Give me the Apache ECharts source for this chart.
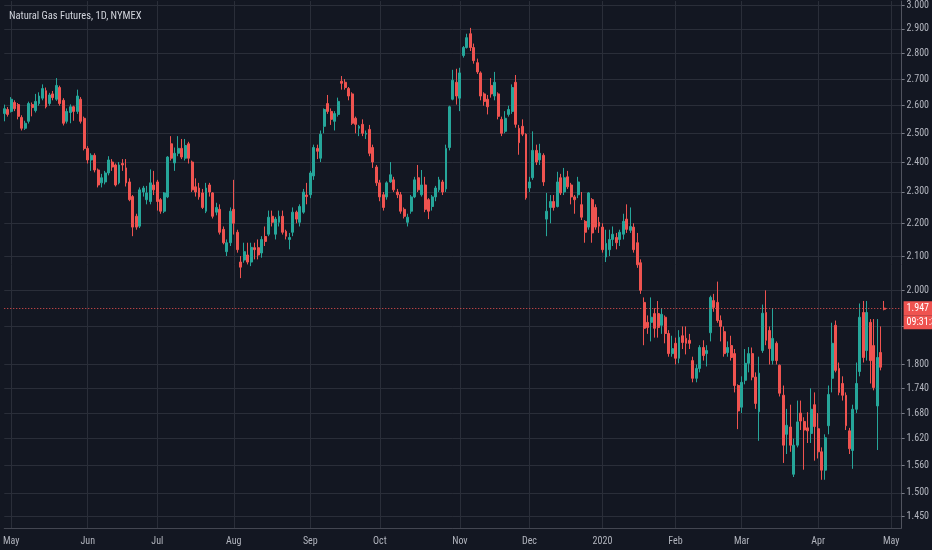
<!DOCTYPE html>
<html>
<head>
<meta charset="utf-8">
<title>Natural Gas Futures, 1D, NYMEX</title>
<script src="https://cdn.jsdelivr.net/npm/echarts@6/dist/echarts.min.js"></script>
<style>
html, body { margin: 0; padding: 0; background: #131722; }
#chart { width: 932px; height: 550px; }
</style>
</head>
<body>
<div id="chart"></div>
<script type="text/javascript">

// trading calendar (NYMEX, daily bars)
var firstDay = '2019-04-29';
var lastDay = '2020-05-06';
var holidays = ['2019-05-27', '2019-07-04', '2019-09-02', '2019-11-28', '2019-12-25',
                '2020-01-01', '2020-01-20', '2020-02-17', '2020-04-10'];
var monthNames = ['Jan', 'Feb', 'Mar', 'Apr', 'May', 'Jun', 'Jul', 'Aug', 'Sep', 'Oct', 'Nov', 'Dec'];

// [open, close, low, high]
var ohlc = [
    // late Apr / May 2019
    [2.571, 2.589, 2.543, 2.604], [2.586, 2.568, 2.560, 2.595], [2.579, 2.624, 2.575, 2.632],
    [2.612, 2.589, 2.580, 2.620], [2.604, 2.561, 2.550, 2.610], [2.557, 2.518, 2.510, 2.565],
    [2.518, 2.536, 2.512, 2.545], [2.543, 2.608, 2.535, 2.615], [2.604, 2.593, 2.561, 2.612],
    [2.582, 2.616, 2.575, 2.644], [2.608, 2.636, 2.600, 2.650], [2.628, 2.664, 2.620, 2.680],
    [2.656, 2.596, 2.590, 2.668], [2.608, 2.640, 2.600, 2.648], [2.644, 2.630, 2.620, 2.655],
    [2.624, 2.676, 2.618, 2.704], [2.668, 2.608, 2.600, 2.675], [2.620, 2.536, 2.528, 2.628],
    [2.543, 2.579, 2.535, 2.590], [2.575, 2.596, 2.536, 2.605], [2.596, 2.579, 2.545, 2.600],
    [2.579, 2.636, 2.570, 2.660], [2.624, 2.543, 2.535, 2.632], [2.554, 2.447, 2.440, 2.560],
    // Jun
    [2.447, 2.407, 2.395, 2.455], [2.407, 2.423, 2.370, 2.430], [2.423, 2.373, 2.365, 2.430],
    [2.373, 2.323, 2.315, 2.378], [2.330, 2.347, 2.315, 2.360], [2.333, 2.363, 2.325, 2.370],
    [2.363, 2.407, 2.355, 2.420], [2.400, 2.383, 2.370, 2.410], [2.390, 2.323, 2.318, 2.395],
    [2.330, 2.390, 2.325, 2.400], [2.395, 2.390, 2.370, 2.410], [2.380, 2.330, 2.318, 2.410],
    [2.333, 2.275, 2.270, 2.345], [2.285, 2.188, 2.160, 2.290], [2.222, 2.188, 2.180, 2.230],
    [2.191, 2.307, 2.185, 2.315], [2.300, 2.313, 2.285, 2.320], [2.275, 2.297, 2.260, 2.320],
    [2.269, 2.330, 2.260, 2.375], [2.323, 2.307, 2.290, 2.370],
    // Jul
    [2.333, 2.269, 2.240, 2.340], [2.275, 2.238, 2.230, 2.280], [2.238, 2.297, 2.232, 2.300],
    [2.284, 2.417, 2.280, 2.420], [2.463, 2.413, 2.405, 2.490], [2.397, 2.430, 2.370, 2.450],
    [2.430, 2.447, 2.420, 2.490], [2.447, 2.417, 2.410, 2.480], [2.413, 2.457, 2.405, 2.480],
    [2.463, 2.413, 2.395, 2.470], [2.400, 2.307, 2.300, 2.405], [2.317, 2.300, 2.285, 2.345],
    [2.313, 2.284, 2.275, 2.330], [2.297, 2.250, 2.245, 2.310], [2.238, 2.313, 2.232, 2.330],
    [2.323, 2.300, 2.285, 2.330], [2.297, 2.222, 2.215, 2.300], [2.235, 2.250, 2.225, 2.265],
    [2.244, 2.172, 2.165, 2.260], [2.181, 2.140, 2.135, 2.190], [2.113, 2.140, 2.100, 2.150],
    [2.140, 2.238, 2.130, 2.250],
    // Aug
    [2.244, 2.200, 2.165, 2.340], [2.172, 2.119, 2.110, 2.180], [2.082, 2.067, 2.035, 2.100],
    [2.088, 2.113, 2.080, 2.140], [2.103, 2.082, 2.075, 2.140], [2.082, 2.126, 2.070, 2.140],
    [2.125, 2.119, 2.090, 2.140], [2.125, 2.103, 2.090, 2.150], [2.109, 2.150, 2.095, 2.160],
    [2.159, 2.144, 2.130, 2.190], [2.166, 2.219, 2.160, 2.240], [2.222, 2.203, 2.190, 2.240],
    [2.166, 2.213, 2.150, 2.220], [2.203, 2.222, 2.190, 2.240], [2.222, 2.172, 2.165, 2.240],
    [2.175, 2.160, 2.150, 2.180], [2.150, 2.156, 2.120, 2.170], [2.172, 2.235, 2.160, 2.250],
    [2.235, 2.213, 2.200, 2.240], [2.203, 2.253, 2.190, 2.260], [2.235, 2.300, 2.230, 2.310],
    [2.290, 2.285, 2.260, 2.330],
    // Sep
    [2.291, 2.363, 2.280, 2.370], [2.353, 2.450, 2.340, 2.460], [2.447, 2.437, 2.410, 2.460],
    [2.413, 2.497, 2.400, 2.510], [2.525, 2.586, 2.500, 2.590], [2.608, 2.579, 2.570, 2.640],
    [2.579, 2.550, 2.530, 2.590], [2.543, 2.571, 2.510, 2.580], [2.568, 2.616, 2.560, 2.630],
    [2.692, 2.684, 2.660, 2.712], [2.688, 2.668, 2.660, 2.700], [2.664, 2.636, 2.620, 2.670],
    [2.644, 2.536, 2.530, 2.650], [2.554, 2.532, 2.500, 2.560], [2.518, 2.525, 2.490, 2.530],
    [2.532, 2.500, 2.490, 2.550], [2.497, 2.500, 2.480, 2.510], [2.514, 2.430, 2.420, 2.530],
    [2.450, 2.400, 2.380, 2.460], [2.383, 2.330, 2.320, 2.390],
    // Oct
    [2.330, 2.284, 2.270, 2.340], [2.291, 2.250, 2.240, 2.300], [2.284, 2.330, 2.275, 2.335],
    [2.333, 2.357, 2.330, 2.400], [2.340, 2.307, 2.300, 2.350], [2.300, 2.291, 2.280, 2.310],
    [2.291, 2.238, 2.230, 2.300], [2.244, 2.222, 2.215, 2.250], [2.203, 2.219, 2.190, 2.230],
    [2.238, 2.284, 2.230, 2.290], [2.284, 2.340, 2.280, 2.350], [2.347, 2.307, 2.300, 2.390],
    [2.291, 2.323, 2.285, 2.373], [2.323, 2.244, 2.235, 2.350], [2.275, 2.238, 2.213, 2.280],
    [2.253, 2.284, 2.240, 2.290], [2.284, 2.313, 2.270, 2.320], [2.307, 2.340, 2.300, 2.350],
    [2.333, 2.300, 2.290, 2.340], [2.310, 2.447, 2.300, 2.460], [2.450, 2.596, 2.440, 2.600],
    [2.624, 2.696, 2.620, 2.736], [2.688, 2.636, 2.604, 2.740],
    // Nov
    [2.628, 2.724, 2.580, 2.744], [2.792, 2.824, 2.784, 2.830], [2.824, 2.864, 2.820, 2.880],
    [2.880, 2.824, 2.810, 2.904], [2.824, 2.772, 2.760, 2.840], [2.764, 2.728, 2.720, 2.780],
    [2.724, 2.636, 2.620, 2.730], [2.644, 2.616, 2.600, 2.650], [2.624, 2.596, 2.568, 2.640],
    [2.676, 2.644, 2.630, 2.704], [2.636, 2.688, 2.620, 2.728], [2.644, 2.561, 2.550, 2.650],
    [2.550, 2.500, 2.490, 2.560], [2.507, 2.554, 2.500, 2.580], [2.568, 2.586, 2.560, 2.600],
    [2.579, 2.668, 2.570, 2.680], [2.688, 2.532, 2.520, 2.716], [2.518, 2.467, 2.425, 2.530],
    [2.525, 2.497, 2.490, 2.550], [2.497, 2.281, 2.275, 2.500],
    // Dec
    [2.313, 2.333, 2.300, 2.350], [2.347, 2.440, 2.340, 2.507], [2.440, 2.400, 2.390, 2.460],
    [2.407, 2.430, 2.390, 2.463], [2.423, 2.333, 2.320, 2.430], [2.213, 2.238, 2.160, 2.297],
    [2.250, 2.269, 2.200, 2.290], [2.269, 2.250, 2.240, 2.290], [2.253, 2.333, 2.250, 2.367],
    [2.347, 2.297, 2.290, 2.360], [2.300, 2.347, 2.290, 2.380], [2.350, 2.317, 2.310, 2.370],
    [2.323, 2.284, 2.260, 2.330], [2.284, 2.275, 2.230, 2.290], [2.291, 2.333, 2.280, 2.350],
    [2.259, 2.219, 2.210, 2.300], [2.206, 2.172, 2.140, 2.210], [2.188, 2.297, 2.180, 2.300],
    [2.275, 2.170, 2.140, 2.280], [2.250, 2.188, 2.180, 2.260], [2.203, 2.191, 2.170, 2.220],
    // Jan 2020
    [2.188, 2.119, 2.110, 2.200], [2.097, 2.138, 2.082, 2.180], [2.119, 2.150, 2.100, 2.180],
    [2.150, 2.166, 2.130, 2.190], [2.156, 2.140, 2.120, 2.170], [2.150, 2.172, 2.130, 2.180],
    [2.166, 2.206, 2.150, 2.230], [2.213, 2.181, 2.170, 2.260], [2.178, 2.190, 2.170, 2.250],
    [2.188, 2.119, 2.110, 2.200], [2.140, 2.074, 2.065, 2.170], [2.080, 2.000, 1.990, 2.090],
    [1.966, 1.895, 1.850, 1.980], [1.911, 1.897, 1.880, 1.930], [1.911, 1.925, 1.860, 1.980],
    [1.935, 1.895, 1.870, 1.950], [1.935, 1.897, 1.870, 1.970], [1.903, 1.933, 1.880, 1.950],
    [1.925, 1.881, 1.855, 1.930], [1.881, 1.828, 1.820, 1.890], [1.828, 1.841, 1.820, 1.875],
    // Feb
    [1.855, 1.816, 1.800, 1.870], [1.816, 1.871, 1.803, 1.890], [1.875, 1.857, 1.840, 1.900],
    [1.868, 1.855, 1.826, 1.900], [1.863, 1.855, 1.840, 1.880], [1.810, 1.765, 1.755, 1.820],
    [1.765, 1.790, 1.755, 1.800], [1.790, 1.844, 1.780, 1.850], [1.844, 1.823, 1.810, 1.863],
    [1.828, 1.836, 1.795, 1.850], [1.883, 1.980, 1.860, 1.985], [1.971, 1.952, 1.940, 1.990],
    [1.966, 1.916, 1.910, 2.025], [1.916, 1.900, 1.860, 1.930], [1.886, 1.828, 1.820, 1.900],
    [1.831, 1.844, 1.820, 1.860], [1.849, 1.818, 1.810, 1.875], [1.828, 1.747, 1.730, 1.840],
    [1.747, 1.685, 1.642, 1.750],
    // Mar
    [1.694, 1.755, 1.680, 1.770], [1.760, 1.803, 1.750, 1.840], [1.803, 1.828, 1.780, 1.845],
    [1.828, 1.768, 1.760, 1.844], [1.768, 1.703, 1.690, 1.780], [1.683, 1.778, 1.615, 1.820],
    [1.836, 1.936, 1.830, 1.960], [1.938, 1.863, 1.850, 2.000], [1.889, 1.841, 1.800, 1.900],
    [1.810, 1.868, 1.800, 1.950], [1.855, 1.810, 1.800, 1.860], [1.798, 1.728, 1.720, 1.800],
    [1.723, 1.605, 1.565, 1.747], [1.630, 1.651, 1.585, 1.690], [1.647, 1.605, 1.590, 1.700],
    [1.540, 1.605, 1.534, 1.620], [1.605, 1.659, 1.600, 1.710], [1.680, 1.661, 1.640, 1.710],
    [1.660, 1.640, 1.550, 1.670], [1.645, 1.638, 1.610, 1.682], [1.632, 1.689, 1.610, 1.740],
    [1.700, 1.648, 1.570, 1.730],
    // Apr
    [1.643, 1.590, 1.575, 1.680], [1.590, 1.549, 1.528, 1.600], [1.549, 1.622, 1.528, 1.630],
    [1.650, 1.725, 1.630, 1.747], [1.765, 1.855, 1.730, 1.910], [1.903, 1.785, 1.780, 1.916],
    [1.790, 1.730, 1.723, 1.805], [1.752, 1.723, 1.710, 1.770], [1.723, 1.650, 1.640, 1.730],
    [1.638, 1.597, 1.585, 1.645], [1.593, 1.689, 1.552, 1.700], [1.689, 1.752, 1.680, 1.805],
    [1.782, 1.925, 1.770, 1.963], [1.938, 1.818, 1.805, 1.970], [1.836, 1.938, 1.810, 1.970],
    [1.911, 1.810, 1.752, 1.920], [1.849, 1.742, 1.735, 1.920], [1.697, 1.818, 1.594, 1.920],
    [1.831, 1.793, 1.785, 1.900], [1.950, 1.947, 1.944, 1.970]
];

// price scale
var gridValues = [1.45, 1.5, 1.56, 1.62, 1.68, 1.74, 1.8, 1.9, 2.0, 2.1, 2.2, 2.3, 2.4, 2.5, 2.6, 2.7, 2.8, 2.9, 3.0];
var labelValues = [1.45, 1.5, 1.56, 1.62, 1.68, 1.74, 1.8, 2.0, 2.1, 2.2, 2.3, 2.4, 2.5, 2.6, 2.7, 2.8, 2.9, 3.0];
var lastPrice = 1.947;
var countdown = '09:31:31';

var fontFamily = '"Liberation Sans Narrow", "Roboto Condensed", "DejaVu Sans Condensed", sans-serif';

// build the list of trading days
function ymd(d) {
    return d.toISOString().slice(0, 10);
}
var dates = [];
var d = new Date(firstDay + 'T00:00:00Z');
var end = new Date(lastDay + 'T00:00:00Z');
while (d <= end) {
    var wd = d.getUTCDay();
    var s = ymd(d);
    if (wd !== 0 && wd !== 6 && holidays.indexOf(s) < 0) dates.push(s);
    d = new Date(d.getTime() + 86400000);
}
var monthStart = dates.map(function (s, i) {
    return i > 0 && s.slice(5, 7) !== dates[i - 1].slice(5, 7);
});

var myChart = echarts.init(document.getElementById('chart'));

var option = {
    backgroundColor: '#131722',
    animation: false,
    title: {
        text: 'Natural Gas Futures, 1D, NYMEX',
        left: 4,
        top: 6,
        textStyle: { color: '#d1d4dc', fontSize: 10.5, fontWeight: 'normal', fontFamily: fontFamily }
    },
    grid: { left: 1, right: 29, top: 0, bottom: 22 },
    xAxis: {
        type: 'category',
        data: dates,
        boundaryGap: false,
        axisLine: { show: true, lineStyle: { color: '#434651' } },
        axisTick: { show: false },
        axisLabel: {
            interval: function (idx) { return monthStart[idx]; },
            formatter: function (val) {
                var m = +val.slice(5, 7);
                return m === 1 ? val.slice(0, 4) : monthNames[m - 1];
            },
            color: '#b2b5be',
            fontSize: 10,
            fontFamily: fontFamily,
            margin: 8
        },
        splitLine: {
            show: true,
            interval: function (idx) { return monthStart[idx]; },
            lineStyle: { color: '#2a2e39' }
        }
    },
    yAxis: {
        type: 'log',
        position: 'right',
        min: 1.4268,
        max: 3.017,
        axisLine: { show: true, lineStyle: { color: '#50535e' } },
        axisTick: { show: true, length: 3, customValues: gridValues, lineStyle: { color: '#787b86' } },
        axisLabel: {
            customValues: labelValues,
            formatter: function (v) { return (+v).toFixed(3); },
            color: '#b2b5be',
            fontSize: 10,
            fontFamily: fontFamily,
            margin: 5
        },
        splitLine: { show: true, lineStyle: { color: '#2a2e39' } }
    },
    series: [{
        name: 'NG1!',
        type: 'candlestick',
        data: ohlc,
        barWidth: 2.4,
        itemStyle: {
            color: '#26a69a',
            color0: '#ef5350',
            borderColor: '#26a69a',
            borderColor0: '#ef5350',
            borderWidth: 1
        },
        markLine: {
            silent: true,
            symbol: ['none', 'none'],
            data: [{ yAxis: lastPrice }],
            lineStyle: { color: '#ef5350', type: [1, 2], width: 1 },
            label: {
                show: true,
                position: 'end',
                distance: 2,
                offset: [0, 7],
                formatter: '{p|' + lastPrice.toFixed(3) + '}\n{t|' + countdown + '}',
                rich: {
                    p: { backgroundColor: '#ef5350', color: '#ffffff', fontSize: 10, fontFamily: fontFamily,
                         padding: [2, 3], lineHeight: 14, width: 30 },
                    t: { backgroundColor: '#ef5350', color: '#ffffff', fontSize: 10, fontFamily: fontFamily,
                         padding: [2, 3], lineHeight: 14, width: 30 }
                }
            }
        }
    }]
};

myChart.setOption(option, true);

</script>
</body>
</html>
